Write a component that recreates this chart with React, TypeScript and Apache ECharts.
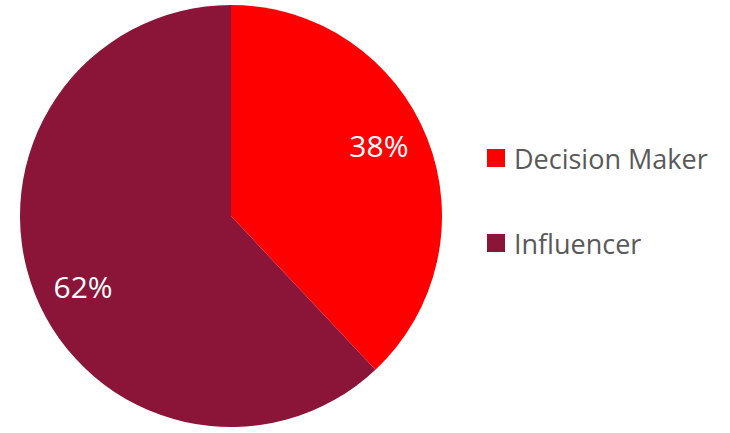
import React, { useEffect, useRef } from "react";
import * as echarts from "echarts";

const categories = ["Decision Maker", "Influencer"];
const values = [38, 62];
const colors = ["#FF0000", "#8A1538"];

export default function App() {
  const ref = useRef<HTMLDivElement>(null);
  useEffect(() => {
    if (!ref.current) return;
    const chart = echarts.init(ref.current, null, { renderer: "svg" });
    const data = categories.map((name, i) => ({
      name,
      value: values[i],
      itemStyle: { color: colors[i] },
    }));
    chart.setOption({
      animation: false,
      backgroundColor: "#ffffff",
      legend: {
        orient: "vertical",
        left: 482,
        top: 138,
        padding: 5,
        itemWidth: 18,
        itemHeight: 18,
        itemGap: 55,
        icon: "rect",
        data: categories,
        textStyle: {
          fontFamily: "Open Sans",
          fontSize: 27,
          color: "#595959",
          lineHeight: 30,
          padding: [0, 0, 0, 4],
        },
      },
      series: [
        {
          type: "pie",
          center: [231, 216],
          radius: [0, 211],
          startAngle: 90,
          clockwise: true,
          data,
          label: { show: false },
          labelLine: { show: false },
          silent: true,
        },
        {
          type: "pie",
          center: [231, 216],
          radius: [110, 212],
          startAngle: 94,
          clockwise: true,
          data: categories.map((name, i) => ({
            name,
            value: values[i],
            itemStyle: { color: "rgba(0,0,0,0)" },
          })),
          label: {
            show: true,
            position: "inside",
            formatter: (p: any) => p.value + "%",
            color: "#ffffff",
            fontFamily: "Open Sans",
            fontSize: 30,
          },
          labelLine: { show: false },
          silent: true,
          legendHoverLink: false,
        },
      ],
    });
    return () => chart.dispose();
  }, []);
  return (
    <div
      ref={ref}
      style={{ position: "fixed", left: 0, top: 0, width: 730, height: 433 }}
    />
  );
}
